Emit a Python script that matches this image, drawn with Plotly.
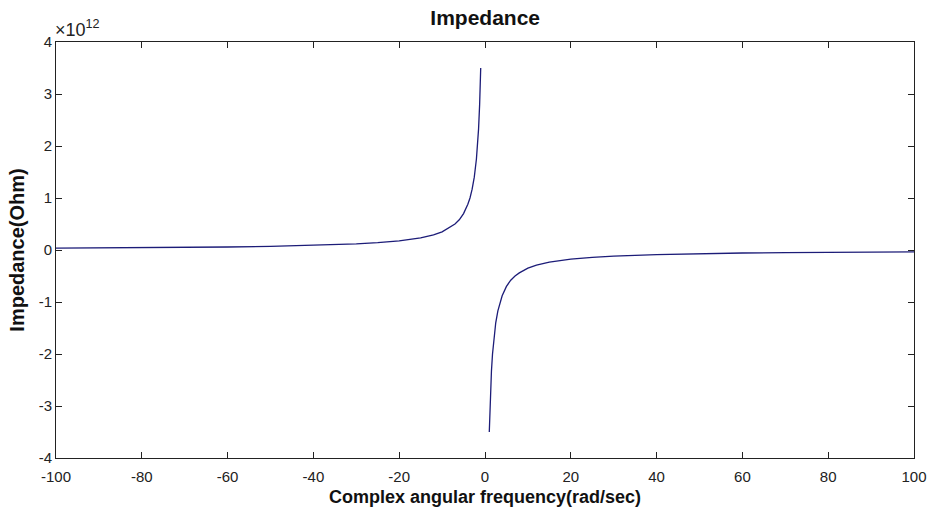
import plotly.graph_objects as go

# Angular frequency samples (rad/sec) and impedance (Ohm), negative-frequency branch
w_neg = [-100, -90, -80, -70, -60, -50, -40, -30, -25, -20, -15, -12, -10, -8, -7,
         -6, -5, -4, -3.5, -3, -2.5, -2, -1.75, -1.5, -1.25, -1]
z_neg = [0.035e12, 0.039e12, 0.044e12, 0.050e12, 0.058e12, 0.070e12, 0.088e12,
         0.117e12, 0.14e12, 0.175e12, 0.233e12, 0.29e12, 0.35e12, 0.44e12, 0.50e12,
         0.58e12, 0.70e12, 0.88e12, 1.0e12, 1.17e12, 1.4e12, 1.75e12, 2.0e12,
         2.33e12, 2.8e12, 3.5e12]

# Positive-frequency branch
w_pos = [1, 1.25, 1.5, 1.75, 2, 2.5, 3, 3.5, 4, 5, 6, 7, 8, 10, 12, 15, 20, 25,
         30, 40, 50, 60, 70, 80, 90, 100]
z_pos = [-3.5e12, -2.8e12, -2.33e12, -2.0e12, -1.75e12, -1.4e12, -1.17e12, -1.0e12,
         -0.88e12, -0.70e12, -0.58e12, -0.50e12, -0.44e12, -0.35e12, -0.29e12,
         -0.233e12, -0.175e12, -0.14e12, -0.117e12, -0.088e12, -0.070e12,
         -0.058e12, -0.050e12, -0.044e12, -0.039e12, -0.035e12]

x_ticks = [-100, -80, -60, -40, -20, 0, 20, 40, 60, 80, 100]
x_tick_text = ["-100", "-80", "-60", "-40", "-20", "0", "20", "40", "60", "80", "100"]
y_ticks = [-4e12, -3e12, -2e12, -1e12, 0, 1e12, 2e12, 3e12, 4e12]
y_tick_text = ["-4", "-3", "-2", "-1", "0", "1", "2", "3", "4"]

line_color = "#1c1c78"
family = "Liberation Sans, Arial, sans-serif"

fig = go.Figure()
fig.add_trace(go.Scatter(x=w_neg + [None] + w_pos, y=z_neg + [None] + z_pos,
                         mode="lines", line=dict(color=line_color, width=1.3),
                         connectgaps=False, showlegend=False))

axis_font = dict(family=family, size=15, color="#222")

fig.update_layout(
    width=933, height=514,
    margin=dict(l=56, r=19, t=42, b=56, autoexpand=False),
    paper_bgcolor="white", plot_bgcolor="white",
    title=dict(text="<b>Impedance</b>", x=0.52, xanchor="center", y=0.965, yanchor="middle",
               font=dict(family=family, size=21, color="#111")),
    xaxis=dict(range=[-100, 100], tickvals=x_ticks, ticktext=x_tick_text,
               ticks="inside", ticklen=6, tickcolor="#222", showline=True,
               linecolor="#222", linewidth=1, mirror="ticks", showgrid=False,
               zeroline=False, tickfont=axis_font, ticklabelstandoff=5,
               automargin=False,
               title=dict(text="<b>Complex angular frequency(rad/sec)</b>", standoff=6,
                          font=dict(family=family, size=18, color="#111"))),
    yaxis=dict(range=[-4e12, 4e12], tickvals=y_ticks, ticktext=y_tick_text,
               ticks="inside", ticklen=6, tickcolor="#222", showline=True,
               linecolor="#222", linewidth=1, mirror="ticks", showgrid=False,
               zeroline=False, tickfont=axis_font, automargin=False,
               title=dict(text="<b>Impedance(Ohm)</b>", standoff=8,
                          font=dict(family=family, size=20, color="#111"))),
    annotations=[dict(text="×10<sup>12</sup>", xref="paper", yref="paper", x=0.0,
                      y=1.0, xanchor="left", yanchor="bottom", showarrow=False,
                      yshift=0, xshift=-3,
                      font=dict(family=family, size=18, color="#222"))],
)

fig.write_html("out.html")
